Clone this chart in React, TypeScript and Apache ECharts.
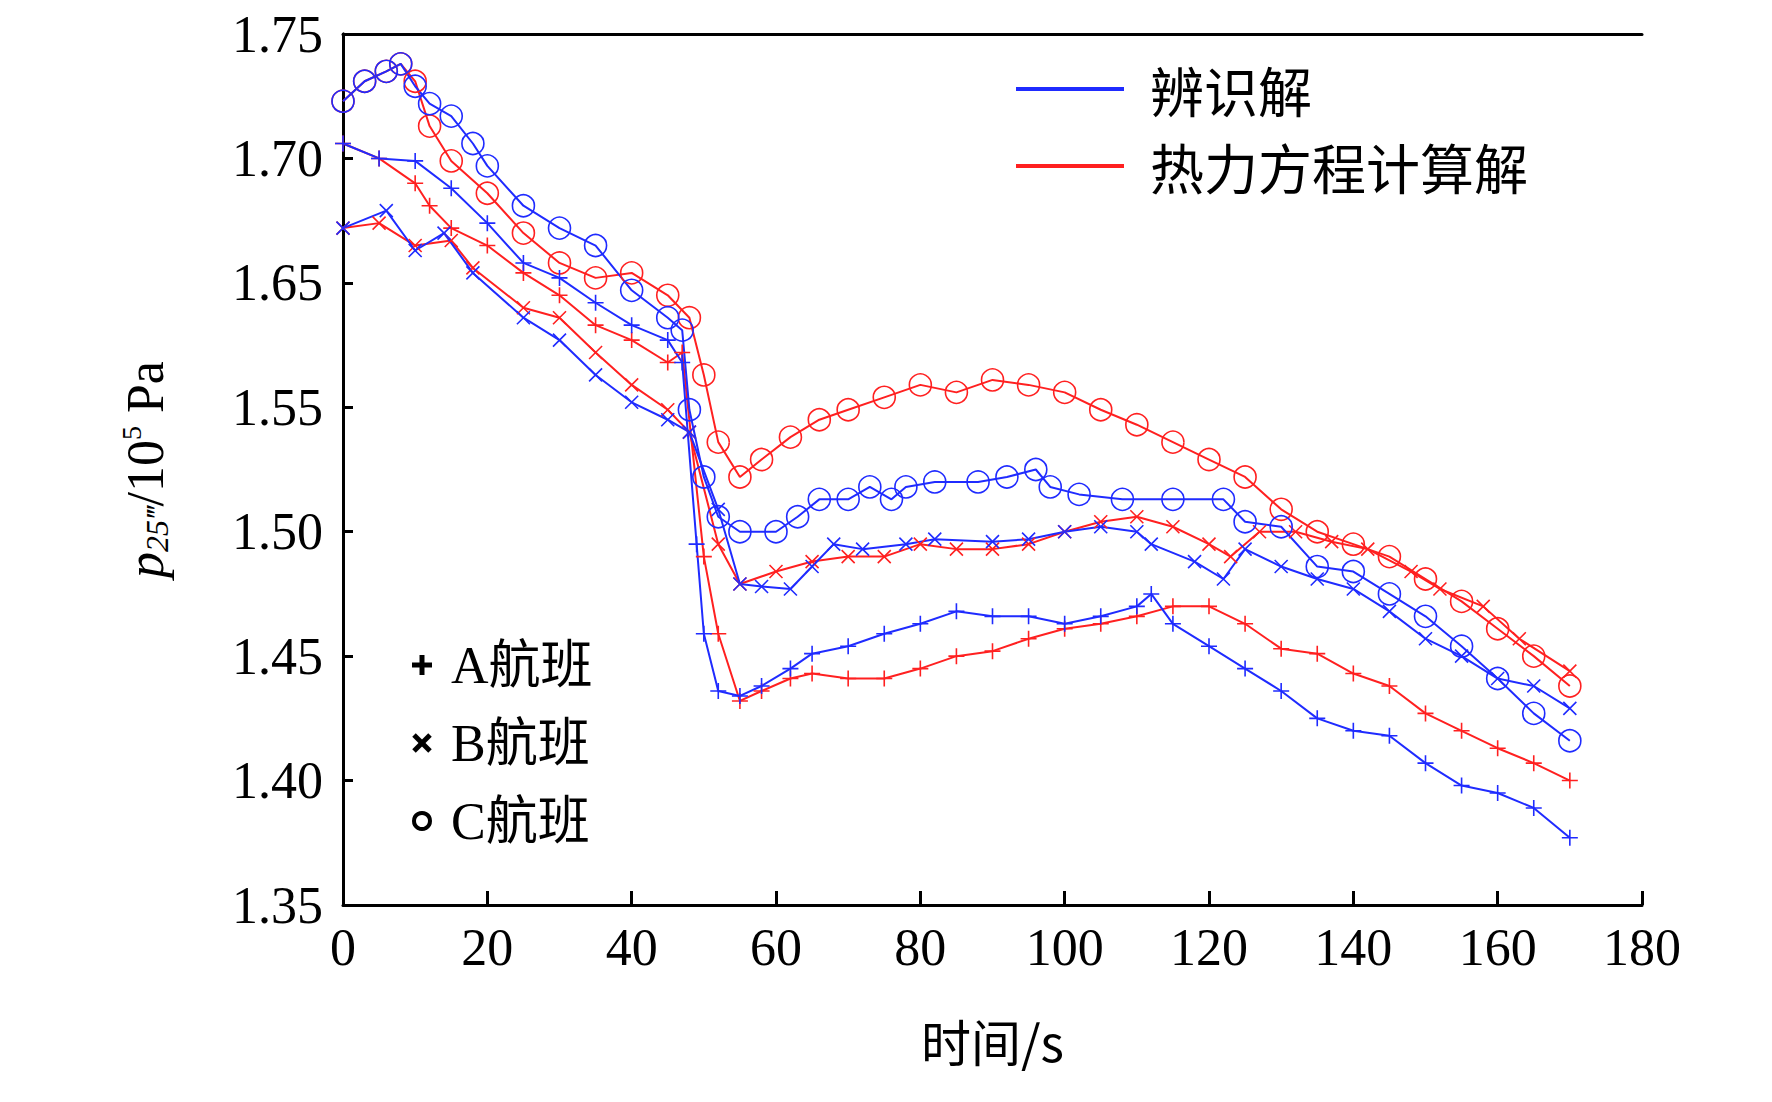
import React from "react";
import * as echarts from "echarts";

// [t(s), p] pairs (axis units; the figure skips the 1.60 label)
const aIdent = [[0,1.656],[5,1.650],[10,1.649],[15,1.638],[20,1.624],[25,1.608],[30,1.602],[35,1.592],[40,1.583],[45,1.577],[47,1.568],[49,1.495],[50,1.459],[52,1.436],[55,1.434],[58,1.438],[62,1.445],[65,1.451],[70,1.454],[75,1.459],[80,1.463],[85,1.468],[90,1.466],[95,1.466],[100,1.463],[105,1.466],[110,1.470],[112,1.475],[115,1.463],[120,1.454],[125,1.445],[130,1.436],[135,1.425],[140,1.420],[145,1.418],[150,1.407],[155,1.398],[160,1.395],[165,1.389],[170,1.377]];
const aCalc = [[0,1.656],[5,1.650],[10,1.640],[12,1.631],[15,1.622],[20,1.615],[25,1.604],[30,1.595],[35,1.583],[40,1.577],[45,1.568],[47,1.572],[50,1.490],[52,1.459],[55,1.432],[58,1.436],[62,1.441],[65,1.443],[70,1.441],[75,1.441],[80,1.445],[85,1.450],[90,1.452],[95,1.457],[100,1.461],[105,1.463],[110,1.466],[115,1.470],[120,1.470],[125,1.463],[130,1.453],[135,1.451],[140,1.443],[145,1.438],[150,1.427],[155,1.420],[160,1.413],[165,1.407],[170,1.400]];
const bIdent = [[0,1.622],[6,1.629],[10,1.613],[14,1.620],[18,1.604],[25,1.586],[30,1.577],[35,1.563],[40,1.552],[45,1.545],[48,1.540],[52,1.509],[55,1.479],[58,1.478],[62,1.477],[65,1.486],[68,1.495],[72,1.493],[78,1.495],[82,1.497],[90,1.496],[95,1.497],[100,1.500],[105,1.502],[110,1.500],[112,1.495],[118,1.488],[122,1.481],[125,1.493],[130,1.486],[135,1.481],[140,1.477],[145,1.468],[150,1.457],[155,1.450],[160,1.441],[165,1.438],[170,1.429]];
const bCalc = [[0,1.622],[5,1.624],[10,1.615],[15,1.617],[18,1.606],[25,1.590],[30,1.586],[35,1.572],[40,1.559],[45,1.549],[48,1.540],[52,1.495],[55,1.479],[60,1.484],[65,1.488],[70,1.490],[75,1.490],[80,1.495],[85,1.493],[90,1.493],[95,1.495],[100,1.500],[105,1.504],[110,1.506],[115,1.502],[120,1.495],[123,1.490],[127,1.500],[132,1.500],[137,1.496],[142,1.493],[148,1.484],[152,1.477],[158,1.470],[163,1.457],[170,1.444]];
const cIdent = [[0,1.673],[3,1.681],[6,1.685],[8,1.688],[10,1.679],[12,1.672],[15,1.667],[18,1.656],[20,1.647],[25,1.631],[30,1.622],[35,1.615],[40,1.597],[45,1.586],[47,1.581],[48,1.549],[50,1.522],[52,1.506],[55,1.500],[60,1.500],[63,1.506],[66,1.513],[70,1.513],[73,1.518],[76,1.513],[78,1.518],[82,1.520],[88,1.520],[92,1.522],[96,1.525],[98,1.518],[102,1.515],[108,1.513],[115,1.513],[122,1.513],[125,1.504],[130,1.502],[135,1.486],[140,1.484],[145,1.475],[150,1.466],[155,1.454],[160,1.441],[165,1.427],[170,1.416]];
const cCalc = [[0,1.673],[3,1.681],[6,1.685],[8,1.688],[10,1.681],[12,1.663],[15,1.649],[20,1.636],[25,1.620],[30,1.608],[35,1.602],[40,1.604],[45,1.595],[48,1.586],[50,1.563],[52,1.536],[55,1.522],[58,1.529],[62,1.538],[66,1.545],[70,1.549],[75,1.554],[80,1.559],[85,1.556],[90,1.561],[95,1.559],[100,1.556],[105,1.549],[110,1.543],[115,1.536],[120,1.529],[125,1.522],[130,1.509],[135,1.500],[140,1.495],[145,1.490],[150,1.481],[155,1.472],[160,1.461],[165,1.450],[170,1.438]];

const lineNames = ["辨识解", "热力方程计算解"];
const flightNames = ["A航班", "B航班", "C航班"];

const BLUE = "#1f2bff";
const RED = "#ff2020";
const PLUS = "path://M0,5L10,5M5,0L5,10";
const CROSS = "path://M0,0L10,10M10,0L0,10";
const FONT = "Liberation Serif";
const CJK = "Noto Sans CJK SC";

function mk(data: number[][], color: string, symbol: string, size: number) {
  return {
    type: "line",
    data,
    symbol,
    symbolSize: size,
    showSymbol: true,
    lineStyle: { color, width: 2 },
    itemStyle: { color: "rgba(0,0,0,0)", borderColor: color, borderWidth: 1.6 },
    z: 3,
  };
}

export default function App() {
  const ref = React.useRef<HTMLDivElement>(null);

  React.useEffect(() => {
    if (!ref.current) return;
    const chart = echarts.init(ref.current, null, { renderer: "svg" });
    const axisLine = { show: true, lineStyle: { color: "#000", width: 3 } };
    const option: any = {
      animation: false,
      backgroundColor: "#fff",
      grid: { left: 335, top: 26, width: 1299, height: 871 },
      xAxis: [
        {
          type: "value", min: 0, max: 180, interval: 20,
          axisLine, splitLine: { show: false },
          axisTick: { inside: true, length: 14, lineStyle: { width: 3, color: "#000" } },
          axisLabel: { fontFamily: FONT, fontSize: 52, color: "#000", margin: 16 },
          name: "时间/s", nameLocation: "middle", nameGap: 110,
          nameTextStyle: { fontFamily: CJK, fontSize: 50, color: "#000" },
        },
        { type: "value", position: "top", min: 0, max: 180, axisLine, axisTick: { show: false }, axisLabel: { show: false }, splitLine: { show: false } },
      ],
      yAxis: [
        {
          type: "value", min: 1.35, max: 1.70, interval: 0.05,
          axisLine, splitLine: { show: false },
          axisTick: { inside: true, length: 10, lineStyle: { width: 3, color: "#000" } },
          axisLabel: {
            fontFamily: FONT, fontSize: 52, color: "#000", margin: 20,
            formatter: (v: number) => (v > 1.595 ? v + 0.05 : v).toFixed(2),
          },
          name: "{i|p}{s|25‴}{n|/10}{sup|5}{n| Pa}",
          nameLocation: "middle", nameGap: 170, nameRotate: 90,
          nameTextStyle: {
            rich: {
              i: { fontFamily: FONT, fontStyle: "italic", fontSize: 52, color: "#000" },
              s: { fontFamily: FONT, fontStyle: "italic", fontSize: 32, color: "#000", verticalAlign: "bottom", padding: [24, 0, 0, 0] },
              n: { fontFamily: FONT, fontSize: 52, color: "#000" },
              sup: { fontFamily: FONT, fontSize: 28, color: "#000", verticalAlign: "top", padding: [0, 0, 22, 0] },
            },
          },
        },
        { type: "value", position: "right", min: 1.35, max: 1.70, axisLine, axisTick: { show: false }, axisLabel: { show: false }, splitLine: { show: false } },
      ],
      series: [
        mk(aCalc, RED, PLUS, 16),
        mk(bCalc, RED, CROSS, 13),
        mk(cCalc, RED, "circle", 22),
        mk(aIdent, BLUE, PLUS, 16),
        mk(bIdent, BLUE, CROSS, 13),
        mk(cIdent, BLUE, "circle", 22),
      ],
      graphic: [
        { type: "line", shape: { x1: 1008, y1: 81, x2: 1116, y2: 81 }, style: { stroke: BLUE, lineWidth: 4 } },
        { type: "text", x: 1142, y: 81, style: { text: lineNames[0], font: `54px "${CJK}"`, fill: "#000", verticalAlign: "middle" } },
        { type: "line", shape: { x1: 1008, y1: 158, x2: 1116, y2: 158 }, style: { stroke: RED, lineWidth: 4 } },
        { type: "text", x: 1142, y: 158, style: { text: lineNames[1], font: `54px "${CJK}"`, fill: "#000", verticalAlign: "middle" } },
        ...flightNames.flatMap((n, i) => {
          const y = 657 + i * 78;
          const sym =
            i === 0
              ? [
                  { type: "line", shape: { x1: 404, y1: y, x2: 424, y2: y }, style: { stroke: "#000", lineWidth: 5 } },
                  { type: "line", shape: { x1: 414, y1: y - 10, x2: 414, y2: y + 10 }, style: { stroke: "#000", lineWidth: 5 } },
                ]
              : i === 1
              ? [
                  { type: "line", shape: { x1: 406, y1: y - 8, x2: 422, y2: y + 8 }, style: { stroke: "#000", lineWidth: 5 } },
                  { type: "line", shape: { x1: 422, y1: y - 8, x2: 406, y2: y + 8 }, style: { stroke: "#000", lineWidth: 5 } },
                ]
              : [{ type: "circle", shape: { cx: 414, cy: y, r: 8 }, style: { fill: "none", stroke: "#000", lineWidth: 4 } }];
          return [
            ...sym,
            { type: "text", x: 443, y, style: { text: n, font: `52px "${FONT}", "${CJK}"`, fill: "#000", verticalAlign: "middle" } },
          ];
        }),
      ],
    };
    chart.setOption(option);
    return () => chart.dispose();
  }, []);

  return <div ref={ref} style={{ width: 1756, height: 1086 }} />;
}
